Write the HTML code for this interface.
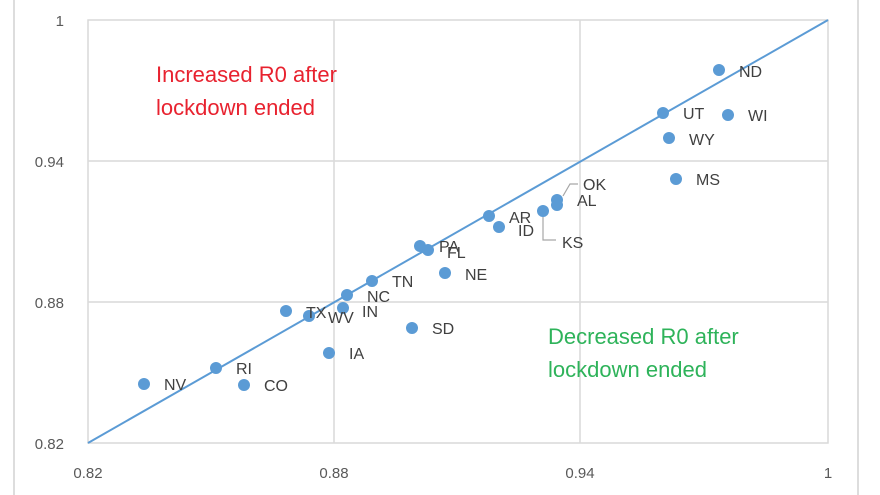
<!DOCTYPE html>
<html><head><style>
body{margin:0;background:#fff;}
svg{display:block;font-family:"Liberation Sans",sans-serif;}
</style></head><body>
<svg width="880" height="495" viewBox="0 0 880 495">
<rect width="880" height="495" fill="#fff"/>
<line x1="14" y1="0" x2="14" y2="495" stroke="#ddd" stroke-width="2"/>
<line x1="858" y1="0" x2="858" y2="495" stroke="#ddd" stroke-width="2"/>
<g stroke="#d9d9d9" stroke-width="1.5" fill="none">
<rect x="88" y="20" width="740" height="423"/>
<line x1="334" y1="20" x2="334" y2="443"/>
<line x1="580" y1="20" x2="580" y2="443"/>
<line x1="88" y1="161" x2="828" y2="161"/>
<line x1="88" y1="302" x2="828" y2="302"/>
</g>
<g font-size="15" fill="#595959">
<text x="64" y="26" text-anchor="end">1</text>
<text x="64" y="167" text-anchor="end">0.94</text>
<text x="64" y="308" text-anchor="end">0.88</text>
<text x="64" y="449" text-anchor="end">0.82</text>
<text x="88" y="478" text-anchor="middle">0.82</text>
<text x="334" y="478" text-anchor="middle">0.88</text>
<text x="580" y="478" text-anchor="middle">0.94</text>
<text x="828" y="478" text-anchor="middle">1</text>
</g>
<line x1="88" y1="443" x2="828" y2="20" stroke="#5b9bd5" stroke-width="2"/>
<g fill="#5b9bd5">
<circle cx="719" cy="70" r="6"/><circle cx="663" cy="113" r="6"/><circle cx="728" cy="115" r="6"/>
<circle cx="669" cy="138" r="6"/><circle cx="676" cy="179" r="6"/><circle cx="557" cy="200" r="6"/>
<circle cx="557" cy="205" r="6"/><circle cx="543" cy="211" r="6"/><circle cx="489" cy="216" r="6"/>
<circle cx="499" cy="227" r="6"/><circle cx="420" cy="246" r="6"/><circle cx="428" cy="250" r="6"/>
<circle cx="445" cy="273" r="6"/><circle cx="372" cy="281" r="6"/><circle cx="347" cy="295" r="6"/>
<circle cx="343" cy="308" r="6"/><circle cx="309" cy="316" r="6"/><circle cx="286" cy="311" r="6"/>
<circle cx="412" cy="328" r="6"/><circle cx="329" cy="353" r="6"/><circle cx="216" cy="368" r="6"/>
<circle cx="144" cy="384" r="6"/><circle cx="244" cy="385" r="6"/>
</g>
<g stroke="#a6a6a6" stroke-width="1.2" fill="none">
<polyline points="563,196 570,184 578,184"/>
<polyline points="543,217 543,240 556,240"/>
</g>
<g font-size="16" fill="#404040">
<text x="739" y="77">ND</text><text x="683" y="119">UT</text><text x="748" y="121">WI</text>
<text x="689" y="145">WY</text><text x="696" y="185">MS</text><text x="583" y="190">OK</text>
<text x="577" y="206">AL</text><text x="562" y="248">KS</text><text x="509" y="223">AR</text>
<text x="518" y="236">ID</text><text x="439" y="252">PA</text><text x="447" y="258">FL</text>
<text x="465" y="280">NE</text><text x="392" y="287">TN</text><text x="367" y="302">NC</text>
<text x="362" y="317">IN</text><text x="306" y="318">TX</text><text x="328" y="323">WV</text>
<text x="432" y="334">SD</text><text x="349" y="359">IA</text><text x="236" y="374">RI</text>
<text x="164" y="390">NV</text><text x="264" y="391">CO</text>
</g>
<g font-size="22" fill="#e8222f">
<text x="156" y="82">Increased R0 after</text>
<text x="156" y="115">lockdown ended</text>
</g>
<g font-size="22" fill="#2eb35a">
<text x="548" y="344">Decreased R0 after</text>
<text x="548" y="377">lockdown ended</text>
</g>
</svg>
</body></html>
